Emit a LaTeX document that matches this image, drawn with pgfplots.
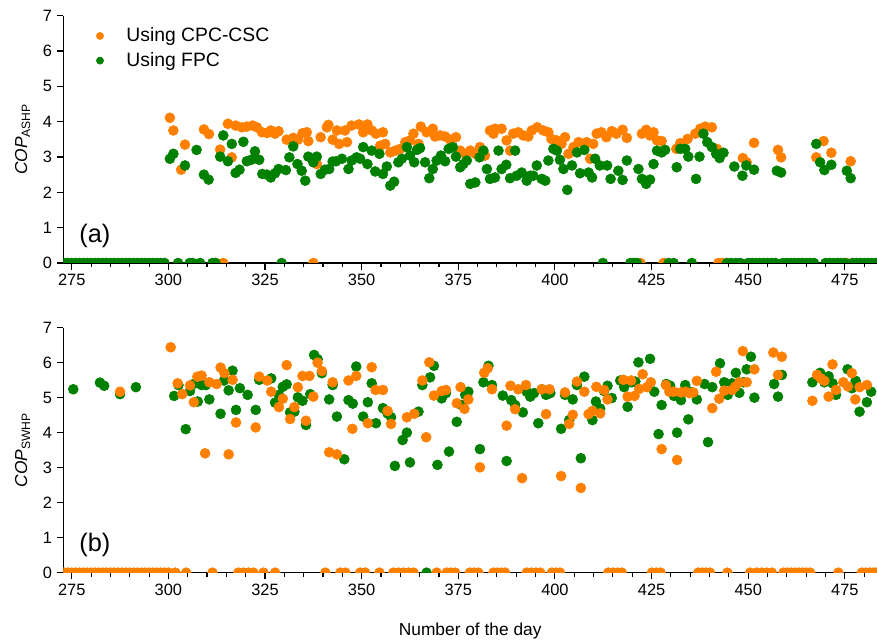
\documentclass[border=0pt]{standalone}
\usepackage{fontspec}
\setmainfont{Liberation Sans}
\usepackage{pgfplots}
\pgfplotsset{compat=1.18}
\definecolor{cpc}{RGB}{255,128,0}
\definecolor{fpc}{RGB}{0,128,0}
\pgfplotsset{
 panel/.style={
  scale only axis, width=610.3pt,
  xmin=272.83, xmax=483.33, ymin=0, ymax=7,
  axis lines=left, axis line style={-, line width=0.9pt},
  xtick={275,300,...,475}, minor xtick={280,285,...,480},
  ytick={0,1,...,7},
  tick align=outside, tick style={black, line width=0.8pt},
  major tick length=5pt, minor tick length=3pt,
  tick label style={font=\fontsize{12.3}{14}\selectfont},
  /pgf/number format/assume math mode=true,
  clip marker paths=true,
  ylabel style={font=\fontsize{13}{15}\selectfont, at={(axis description cs:-0.05,0.5)}, anchor=center},
 },
 cpcs/.style={only marks, mark=*, color=cpc, mark size=3.75pt, mark options={draw=none, fill=cpc}},
 fpcs/.style={only marks, mark=*, color=fpc, mark size=3.75pt, mark options={draw=none, fill=fpc}},
}
\begin{document}
\begin{tikzpicture}
\useasboundingbox (0,0) rectangle (657.75pt,481.5pt);
% ---------------- panel (a)
\begin{axis}[panel, at={(47.5pt,284.25pt)}, anchor=south west, height=185.5pt,
  ylabel={\textit{COP}\textsubscript{ASHP}},
  legend style={at={(rel axis cs:0.0255,0.973)}, anchor=north west, draw=none, fill=none,
    font=\fontsize{14.5}{17}\selectfont, row sep=2.5pt, legend cell align=left},
  legend image code/.code={\path (0,0) (0.92cm,0); \draw[#1, mark size=2.7pt] plot coordinates {(0.3cm,0cm)};},
]
\addplot[cpcs] coordinates {
(300.4,4.11)(301.3,3.75)(303.3,2.64)(304.3,3.35)(309.2,3.78)(310.5,3.65)(313.4,3.21)(315.4,3.94)
(316.4,2.99)(317.4,3.89)(319.0,3.84)(320.3,3.86)(321.8,3.89)(322.9,3.84)(324.2,3.70)(325.5,3.68)
(326.5,3.75)(327.6,3.66)(328.5,3.73)(330.6,3.49)(332.3,3.54)(333.5,3.49)(334.7,3.67)(335.8,3.70)
(336.2,3.45)(338.4,2.80)(339.4,3.56)(341.0,3.84)(341.4,3.91)(342.5,3.49)(343.6,3.75)(344.2,3.37)
(345.7,3.75)(346.2,3.42)(347.4,3.89)(349.3,3.92)(350.4,3.70)(351.5,3.92)(352.6,3.75)(353.7,3.66)
(355.5,3.70)(354.8,3.32)(356.1,3.37)(357.4,3.13)(358.7,3.18)(360.0,3.23)(361.3,3.42)(362.5,3.47)
(363.4,3.66)(364.7,3.37)(365.3,3.86)(366.8,3.70)(368.4,3.80)(369.0,3.58)(370.3,3.61)(371.6,3.58)
(372.9,3.49)(374.4,3.56)(375.5,3.18)(376.8,3.09)(378.1,3.18)(379.4,3.09)(380.6,3.28)(381.9,3.04)
(383.2,3.75)(384.1,3.66)(384.5,3.80)(386.2,3.80)(387.5,3.47)(388.4,3.18)(389.2,3.66)(390.5,3.70)
(391.8,3.61)(393.1,3.58)(394.0,3.75)(395.4,3.84)(397.0,3.75)(398.3,3.70)(399.1,3.51)(400.4,3.47)
(401.7,3.37)(402.6,3.56)(403.5,3.09)(404.8,3.28)(406.1,3.42)(408.2,3.42)(409.1,2.95)(409.9,3.37)
(410.8,3.66)(412.0,3.70)(413.3,3.56)(414.7,3.73)(415.9,3.66)(417.5,3.77)(418.6,3.54)(422.5,3.66)
(423.6,3.77)(424.6,3.61)(425.5,3.70)(426.4,3.47)(427.6,3.45)(431.4,3.23)(432.4,3.39)(434.3,3.51)
(436.3,3.66)(437.6,3.80)(438.9,3.86)(440.6,3.84)(441.9,3.23)(448.6,2.97)(449.6,2.85)(451.5,3.40)
(457.7,3.20)(458.5,2.99)(467.6,2.99)(469.5,3.45)(471.5,3.12)(476.5,2.88)
(312.3,0)(314.2,0)(337.5,0)(422.1,0)(428.1,0)(442.3,0)(443.2,0)(475.5,0)
};
\addlegendentry{Using CPC-CSC}
\addplot[fpcs] coordinates {
(300.4,2.95)(301.3,3.09)(304.3,2.76)(307.3,3.20)(309.2,2.50)(310.4,2.36)(313.4,3.01)(314.2,3.61)
(315.4,2.88)(316.4,3.37)(317.4,2.55)(318.4,2.64)(319.4,3.43)(320.3,2.88)(321.4,2.92)(322.4,3.16)
(323.5,2.92)(324.3,2.52)(325.5,2.50)(326.5,2.42)(327.6,2.54)(328.5,2.66)(330.4,2.63)(331.3,2.99)
(332.3,3.30)(333.4,2.80)(334.5,2.61)(335.4,2.33)(336.2,3.01)(337.5,2.85)(338.4,3.01)(339.4,2.52)
(340.5,2.64)(341.6,2.66)(342.5,2.87)(343.4,2.88)(344.9,2.95)(346.6,2.66)(347.4,2.90)(348.7,2.99)
(349.6,2.95)(350.4,3.28)(351.5,2.80)(352.6,3.18)(353.5,2.59)(354.6,3.09)(355.5,2.52)(356.5,2.73)
(357.4,2.19)(358.4,2.30)(359.5,2.85)(360.4,2.95)(361.7,3.28)(362.5,3.04)(363.6,2.85)(364.3,3.20)
(365.1,3.25)(366.4,2.85)(367.5,2.40)(368.4,2.66)(369.4,2.90)(370.5,3.04)(371.6,2.88)(372.5,3.23)
(373.6,3.28)(374.4,3.01)(375.5,2.71)(376.3,2.80)(377.2,2.90)(378.1,2.24)(379.4,2.28)(380.5,2.99)
(381.5,3.18)(382.4,2.66)(383.2,2.38)(384.5,2.42)(385.4,3.18)(386.2,2.66)(387.4,2.78)(388.4,2.40)
(389.7,3.18)(390.1,2.47)(391.4,2.56)(392.7,2.33)(393.6,2.47)(394.4,2.47)(395.3,2.76)(396.6,2.38)
(397.5,2.33)(398.3,2.90)(399.6,3.23)(400.5,3.18)(401.3,2.92)(402.2,2.66)(403.2,2.07)(404.4,2.76)
(405.7,3.13)(406.5,2.54)(407.6,3.20)(408.7,2.56)(409.6,2.42)(410.4,2.95)(411.6,2.76)(413.5,2.76)
(414.4,2.38)(416.4,2.61)(417.5,2.35)(418.6,2.90)(421.6,2.66)(422.5,2.38)(423.6,2.24)(424.6,2.36)
(425.5,2.80)(426.4,3.18)(427.6,3.13)(428.5,3.20)(431.5,2.71)(432.4,3.23)(433.7,3.23)(434.5,3.01)
(436.5,2.38)(437.4,3.01)(438.4,3.66)(439.4,3.42)(440.6,3.28)(441.7,3.09)(442.6,2.97)(443.6,3.12)
(446.4,2.73)(448.5,2.47)(449.5,2.76)(451.5,2.64)(457.4,2.61)(458.5,2.56)(467.6,3.37)(468.6,2.85)
(469.7,2.63)(471.5,2.78)(475.5,2.61)(476.5,2.40)
(273,0)(274,0)(275,0)(276,0)(277,0)(278,0)(279,0)(280,0)(281,0)(282,0)(283,0)(284,0)(285,0)
(286,0)(287,0)(288,0)(289,0)(290,0)(291,0)(292,0)(293,0)(294,0)(295,0)(296,0)(297,0)(298,0)(299,0)
(302.5,0)(305.5,0)(306.3,0)(308.2,0)(311.4,0)(312.2,0)(329.3,0)(412.4,0)(419.5,0)(420.4,0)(421.2,0)
(429.4,0)(430.7,0)(435.4,0)(444.5,0)(445.6,0)(446.8,0)(447.9,0)
(450,0)(451,0)(452,0)(453,0)(454,0)(455,0)(456,0)(457,0)
(459,0)(460,0)(461,0)(462,0)(463,0)(464,0)(465,0)(466,0)(467,0)
(470,0)(471,0)(472,0)(473,0)(474,0)(475,0)(477,0)(478,0)(479,0)(480,0)(481,0)(482,0)(483,0)
};
\addlegendentry{Using FPC}
\node[font=\fontsize{19}{21}\selectfont] at (axis cs:281,0.77) {(a)};
\end{axis}
% ---------------- panel (b)
\begin{axis}[panel, at={(47.5pt,52.0pt)}, anchor=south west, height=183.75pt,
  ylabel={\textit{COP}\textsubscript{SWHP}},
  xlabel={Number of the day},
  xlabel style={font=\fontsize{13}{15}\selectfont, at={(axis description cs:0.5,-0.24)}, anchor=center},
]
\addplot[fpcs] coordinates {
(275.4,5.24)(282.3,5.43)(283.4,5.34)(287.5,5.10)(291.6,5.30)(301.5,5.05)(302.6,5.36)(304.5,4.10)
(305.6,5.19)(306.9,5.41)(307.6,4.89)(308.6,5.36)(309.7,5.36)(310.6,4.95)(313.5,4.54)(314.4,5.49)
(315.6,5.21)(316.6,5.77)(317.5,4.65)(318.5,5.27)(320.5,5.08)(322.6,4.65)(323.5,5.51)(326.6,5.55)
(327.6,4.86)(328.6,5.08)(329.6,5.31)(330.6,5.38)(331.5,4.58)(332.6,4.60)(333.5,5.01)(334.7,4.91)
(335.6,4.22)(336.7,5.10)(337.7,6.22)(338.6,6.10)(339.7,5.70)(341.6,4.95)(342.5,5.36)(343.6,4.46)
(345.5,3.24)(346.6,4.93)(347.7,4.83)(348.6,5.89)(350.4,4.46)(351.6,4.87)(352.6,5.41)(353.7,4.27)
(355.5,4.70)(356.7,4.55)(357.6,4.44)(358.6,3.05)(360.6,3.79)(361.7,4.00)(362.5,3.15)(364.7,4.60)
(365.7,5.36)(367.7,5.58)(368.7,5.91)(369.6,3.08)(370.7,4.98)(371.8,5.13)(372.6,3.46)(374.6,4.31)
(375.9,4.79)(376.8,5.08)(377.6,5.17)(380.6,3.53)(381.5,5.44)(382.8,5.91)(383.7,5.36)(386.5,5.06)
(387.5,3.19)(388.7,4.93)(389.7,4.79)(391.7,4.58)(392.7,5.17)(393.6,5.03)(394.6,5.13)(395.7,4.27)
(396.6,5.24)(397.7,5.08)(398.8,5.13)(401.6,4.11)(402.6,5.08)(403.7,4.36)(404.6,4.95)(405.7,5.36)
(406.7,3.27)(407.6,5.60)(409.7,4.36)(410.6,4.89)(411.7,4.69)(412.7,5.19)(413.6,5.34)(414.7,4.99)
(416.9,5.49)(417.9,5.30)(418.8,4.74)(419.9,5.44)(420.8,5.46)(421.6,6.01)(424.6,6.11)(425.7,5.17)
(426.8,3.96)(427.6,4.79)(428.8,5.39)(429.8,5.34)(430.8,5.05)(431.6,4.00)(432.6,4.93)(433.7,5.36)
(434.5,4.38)(434.8,5.17)(436.7,4.95)(438.7,5.39)(439.6,3.73)(440.7,5.30)(442.7,5.98)(443.8,5.44)
(444.7,5.08)(445.8,5.41)(446.8,5.71)(447.7,5.14)(448.8,5.44)(449.6,5.81)(450.7,6.17)(451.6,5.00)
(456.7,5.39)(457.7,5.03)(458.7,5.65)(466.6,5.44)(468.6,5.71)(469.7,5.44)(470.8,5.61)(471.8,5.41)
(472.7,5.08)(475.7,5.81)(476.8,5.27)(477.8,5.48)(478.8,4.60)(480.7,4.87)(481.8,5.17)
(366.8,0)
};
\addplot[cpcs] coordinates {
(287.5,5.17)(300.6,6.44)(302.4,5.41)(303.6,5.10)(305.6,5.35)(306.6,4.87)(307.5,5.60)(308.6,5.63)
(309.5,3.41)(310.6,5.44)(312.5,5.39)(313.5,5.86)(314.5,5.70)(315.6,3.38)(316.6,5.51)(317.5,4.29)
(322.6,4.15)(323.5,5.60)(325.6,5.49)(326.6,5.17)(328.6,4.73)(329.6,4.97)(330.6,5.93)(331.5,4.39)
(332.6,4.73)(333.5,5.30)(334.7,5.62)(335.6,4.34)(336.5,5.62)(337.5,5.03)(338.6,6.00)(339.7,5.76)
(341.6,3.44)(342.5,5.44)(343.6,3.38)(346.6,5.49)(347.6,4.11)(348.6,5.62)(351.6,4.27)(352.6,5.87)
(353.6,5.22)(355.5,5.22)(356.7,4.62)(357.6,4.25)(361.7,4.44)(363.6,4.54)(365.7,5.49)(366.7,3.87)
(367.5,6.01)(368.7,5.06)(370.7,5.19)(371.8,5.22)(374.6,4.84)(375.6,5.30)(376.6,4.68)(377.6,4.95)
(380.6,3.01)(381.7,5.71)(382.6,5.84)(383.7,5.24)(387.5,4.20)(388.5,5.34)(389.7,4.67)(390.5,5.24)
(391.5,2.70)(392.5,5.36)(396.6,5.24)(397.7,4.53)(398.6,5.24)(401.6,2.76)(402.6,5.15)(403.7,4.25)
(404.6,4.51)(405.7,5.46)(406.7,2.42)(407.6,5.17)(408.7,4.53)(409.7,4.62)(410.7,5.31)(411.7,4.55)
(412.7,5.22)(413.6,4.95)(417.7,5.51)(418.8,5.03)(419.7,5.49)(420.6,5.05)(421.8,5.25)(422.7,5.67)
(423.8,5.30)(424.8,5.44)(427.6,3.53)(428.7,5.36)(429.6,5.17)(430.7,5.17)(431.6,3.22)(432.6,5.15)
(433.8,5.17)(434.8,5.13)(435.8,5.15)(436.7,5.48)(440.7,4.70)(441.7,5.74)(442.5,4.97)(443.8,5.20)
(445.8,5.22)(446.6,5.31)(447.7,5.44)(448.6,6.33)(449.6,5.44)(451.6,5.81)(456.5,6.29)(457.7,5.65)
(458.7,6.17)(466.6,4.91)(467.8,5.65)(468.8,5.55)(469.7,5.48)(470.8,5.03)(471.8,5.95)(472.7,5.22)
(474.6,5.44)(475.8,5.32)(476.8,5.70)(477.7,4.95)(478.8,5.30)(480.7,5.36)
(273,0)(274,0)(275,0)(276,0)(277,0)(278,0)(279,0)(280,0)(281,0)(282,0)(283,0)(284,0)(285,0)
(286,0)(287,0)(288,0)(289,0)(290,0)(291,0)(292,0)(293,0)(294,0)(295,0)(296,0)(297,0)(298,0)(299,0)(300,0)
(301.8,0)(304.6,0)(311.4,0)(318.1,0)(319.4,0)(320.7,0)(322.0,0)(324.6,0)(327.6,0)(340.6,0)(344.5,0)
(345.8,0)(349.6,0)(350.9,0)(354.6,0)(358.2,0)(359.5,0)(360.8,0)(362.1,0)(363.4,0)(369.4,0)(372.0,0)
(373.1,0)(374.2,0)(378.0,0)(379.1,0)(380.2,0)(384.1,0)(385.1,0)(386.1,0)(387.1,0)(392.7,0)(393.9,0)
(395.1,0)(396.2,0)(399.2,0)(400.3,0)(401.3,0)(413.8,0)(415.0,0)(416.2,0)(417.3,0)(425.1,0)(426.2,0)
(427.3,0)(437.1,0)(438.1,0)(439.1,0)(440.1,0)(444.6,0)(450.5,0)(452.2,0)(453.5,0)(454.8,0)(456.1,0)
(459.1,0)(460.1,0)(461.1,0)(462.1,0)(463.1,0)(464.1,0)(465.0,0)(466.0,0)(473.3,0)(479.4,0)(480.4,0)
(481.4,0)(482.4,0)(483.0,0)
};
\node[font=\fontsize{19}{21}\selectfont] at (axis cs:281,0.79) {(b)};
\end{axis}
\end{tikzpicture}
\end{document}
